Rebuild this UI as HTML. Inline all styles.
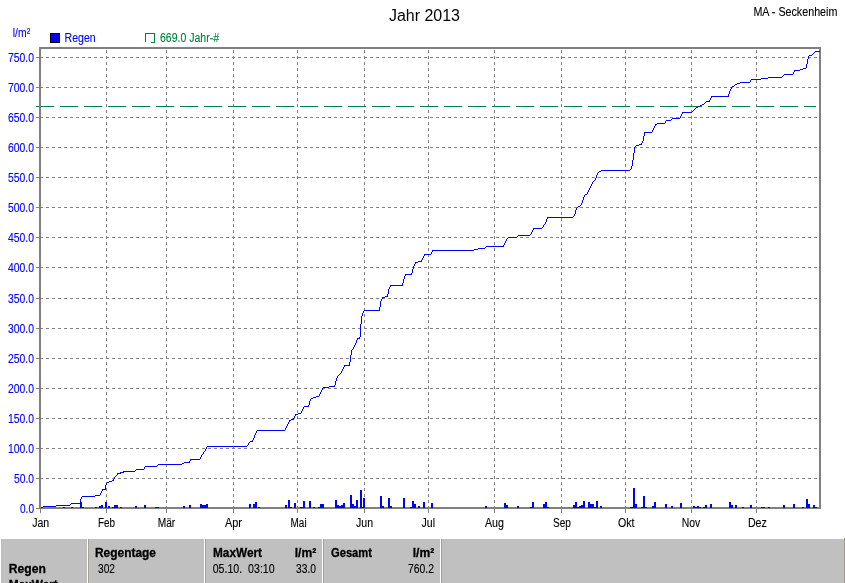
<!DOCTYPE html>
<html><head><meta charset="utf-8"><title>Jahr 2013</title>
<style>html,body{margin:0;padding:0;background:#fff;overflow:hidden}svg{display:block}text{white-space:pre}</style></head>
<body>
<svg width="845" height="583" viewBox="0 0 845 583" font-family="'Liberation Sans', sans-serif">
<rect x="0" y="0" width="845" height="583" fill="#fff"/>
<g shape-rendering="crispEdges">
<line x1="40" y1="57.5" x2="819" y2="57.5" stroke="#808080" stroke-width="1" stroke-dasharray="3 3"/>
<line x1="36" y1="57.5" x2="39" y2="57.5" stroke="#808080" stroke-width="1"/>
<line x1="40" y1="87.5" x2="819" y2="87.5" stroke="#808080" stroke-width="1" stroke-dasharray="3 3"/>
<line x1="36" y1="87.5" x2="39" y2="87.5" stroke="#808080" stroke-width="1"/>
<line x1="40" y1="117.5" x2="819" y2="117.5" stroke="#808080" stroke-width="1" stroke-dasharray="3 3"/>
<line x1="36" y1="117.5" x2="39" y2="117.5" stroke="#808080" stroke-width="1"/>
<line x1="40" y1="147.5" x2="819" y2="147.5" stroke="#808080" stroke-width="1" stroke-dasharray="3 3"/>
<line x1="36" y1="147.5" x2="39" y2="147.5" stroke="#808080" stroke-width="1"/>
<line x1="40" y1="177.5" x2="819" y2="177.5" stroke="#808080" stroke-width="1" stroke-dasharray="3 3"/>
<line x1="36" y1="177.5" x2="39" y2="177.5" stroke="#808080" stroke-width="1"/>
<line x1="40" y1="207.5" x2="819" y2="207.5" stroke="#808080" stroke-width="1" stroke-dasharray="3 3"/>
<line x1="36" y1="207.5" x2="39" y2="207.5" stroke="#808080" stroke-width="1"/>
<line x1="40" y1="237.5" x2="819" y2="237.5" stroke="#808080" stroke-width="1" stroke-dasharray="3 3"/>
<line x1="36" y1="237.5" x2="39" y2="237.5" stroke="#808080" stroke-width="1"/>
<line x1="40" y1="267.5" x2="819" y2="267.5" stroke="#808080" stroke-width="1" stroke-dasharray="3 3"/>
<line x1="36" y1="267.5" x2="39" y2="267.5" stroke="#808080" stroke-width="1"/>
<line x1="40" y1="298.5" x2="819" y2="298.5" stroke="#808080" stroke-width="1" stroke-dasharray="3 3"/>
<line x1="36" y1="298.5" x2="39" y2="298.5" stroke="#808080" stroke-width="1"/>
<line x1="40" y1="328.5" x2="819" y2="328.5" stroke="#808080" stroke-width="1" stroke-dasharray="3 3"/>
<line x1="36" y1="328.5" x2="39" y2="328.5" stroke="#808080" stroke-width="1"/>
<line x1="40" y1="358.5" x2="819" y2="358.5" stroke="#808080" stroke-width="1" stroke-dasharray="3 3"/>
<line x1="36" y1="358.5" x2="39" y2="358.5" stroke="#808080" stroke-width="1"/>
<line x1="40" y1="388.5" x2="819" y2="388.5" stroke="#808080" stroke-width="1" stroke-dasharray="3 3"/>
<line x1="36" y1="388.5" x2="39" y2="388.5" stroke="#808080" stroke-width="1"/>
<line x1="40" y1="418.5" x2="819" y2="418.5" stroke="#808080" stroke-width="1" stroke-dasharray="3 3"/>
<line x1="36" y1="418.5" x2="39" y2="418.5" stroke="#808080" stroke-width="1"/>
<line x1="40" y1="448.5" x2="819" y2="448.5" stroke="#808080" stroke-width="1" stroke-dasharray="3 3"/>
<line x1="36" y1="448.5" x2="39" y2="448.5" stroke="#808080" stroke-width="1"/>
<line x1="40" y1="478.5" x2="819" y2="478.5" stroke="#808080" stroke-width="1" stroke-dasharray="3 3"/>
<line x1="36" y1="478.5" x2="39" y2="478.5" stroke="#808080" stroke-width="1"/>
<line x1="36" y1="508.5" x2="39" y2="508.5" stroke="#808080" stroke-width="1"/>
<line x1="40.5" y1="509" x2="40.5" y2="513" stroke="#808080" stroke-width="1"/>
<line x1="106.5" y1="50" x2="106.5" y2="507" stroke="#808080" stroke-width="1" stroke-dasharray="3 3"/>
<line x1="106.5" y1="509" x2="106.5" y2="513" stroke="#808080" stroke-width="1"/>
<line x1="166.5" y1="50" x2="166.5" y2="507" stroke="#808080" stroke-width="1" stroke-dasharray="3 3"/>
<line x1="166.5" y1="509" x2="166.5" y2="513" stroke="#808080" stroke-width="1"/>
<line x1="233.5" y1="50" x2="233.5" y2="507" stroke="#808080" stroke-width="1" stroke-dasharray="3 3"/>
<line x1="233.5" y1="509" x2="233.5" y2="513" stroke="#808080" stroke-width="1"/>
<line x1="297.5" y1="50" x2="297.5" y2="507" stroke="#808080" stroke-width="1" stroke-dasharray="3 3"/>
<line x1="297.5" y1="509" x2="297.5" y2="513" stroke="#808080" stroke-width="1"/>
<line x1="364.5" y1="50" x2="364.5" y2="507" stroke="#808080" stroke-width="1" stroke-dasharray="3 3"/>
<line x1="364.5" y1="509" x2="364.5" y2="513" stroke="#808080" stroke-width="1"/>
<line x1="428.5" y1="50" x2="428.5" y2="507" stroke="#808080" stroke-width="1" stroke-dasharray="3 3"/>
<line x1="428.5" y1="509" x2="428.5" y2="513" stroke="#808080" stroke-width="1"/>
<line x1="494.5" y1="50" x2="494.5" y2="507" stroke="#808080" stroke-width="1" stroke-dasharray="3 3"/>
<line x1="494.5" y1="509" x2="494.5" y2="513" stroke="#808080" stroke-width="1"/>
<line x1="561.5" y1="50" x2="561.5" y2="507" stroke="#808080" stroke-width="1" stroke-dasharray="3 3"/>
<line x1="561.5" y1="509" x2="561.5" y2="513" stroke="#808080" stroke-width="1"/>
<line x1="625.5" y1="50" x2="625.5" y2="507" stroke="#808080" stroke-width="1" stroke-dasharray="3 3"/>
<line x1="625.5" y1="509" x2="625.5" y2="513" stroke="#808080" stroke-width="1"/>
<line x1="691.5" y1="50" x2="691.5" y2="507" stroke="#808080" stroke-width="1" stroke-dasharray="3 3"/>
<line x1="691.5" y1="509" x2="691.5" y2="513" stroke="#808080" stroke-width="1"/>
<line x1="756.5" y1="50" x2="756.5" y2="507" stroke="#808080" stroke-width="1" stroke-dasharray="3 3"/>
<line x1="756.5" y1="509" x2="756.5" y2="513" stroke="#808080" stroke-width="1"/>
<line x1="36" y1="106.5" x2="816" y2="106.5" stroke="#008040" stroke-width="1" stroke-dasharray="18 6"/>
<rect x="40" y="48" width="780" height="460" fill="none" stroke="#808080" stroke-width="2"/>
<rect x="63" y="507" width="2" height="1" fill="#0000ff"/>
<rect x="71" y="507" width="2" height="1" fill="#0000ff"/>
<rect x="80" y="502" width="2" height="6" fill="#0000ff"/>
<rect x="82" y="507" width="2" height="1" fill="#0000ff"/>
<rect x="95" y="507" width="2" height="1" fill="#0000ff"/>
<rect x="99" y="506" width="2" height="2" fill="#0000ff"/>
<rect x="101" y="505" width="2" height="3" fill="#0000ff"/>
<rect x="105" y="502" width="2" height="6" fill="#0000ff"/>
<rect x="108" y="506" width="2" height="2" fill="#0000ff"/>
<rect x="112" y="507" width="2" height="1" fill="#0000ff"/>
<rect x="114" y="505" width="4" height="3" fill="#0000ff"/>
<rect x="120" y="507" width="2" height="1" fill="#0000ff"/>
<rect x="135" y="506" width="2" height="2" fill="#0000ff"/>
<rect x="144" y="505" width="2" height="3" fill="#0000ff"/>
<rect x="155" y="507" width="4" height="1" fill="#0000ff"/>
<rect x="183" y="506" width="2" height="2" fill="#0000ff"/>
<rect x="189" y="505" width="2" height="3" fill="#0000ff"/>
<rect x="200" y="504" width="2" height="4" fill="#0000ff"/>
<rect x="202" y="505" width="4" height="3" fill="#0000ff"/>
<rect x="206" y="504" width="2" height="4" fill="#0000ff"/>
<rect x="249" y="504" width="2" height="4" fill="#0000ff"/>
<rect x="253" y="504" width="2" height="4" fill="#0000ff"/>
<rect x="255" y="502" width="2" height="6" fill="#0000ff"/>
<rect x="258" y="507" width="2" height="1" fill="#0000ff"/>
<rect x="285" y="505" width="2" height="3" fill="#0000ff"/>
<rect x="288" y="500" width="2" height="8" fill="#0000ff"/>
<rect x="290" y="507" width="2" height="1" fill="#0000ff"/>
<rect x="294" y="503" width="2" height="5" fill="#0000ff"/>
<rect x="300" y="507" width="3" height="1" fill="#0000ff"/>
<rect x="303" y="501" width="2" height="7" fill="#0000ff"/>
<rect x="309" y="501" width="2" height="7" fill="#0000ff"/>
<rect x="313" y="507" width="2" height="1" fill="#0000ff"/>
<rect x="318" y="507" width="2" height="1" fill="#0000ff"/>
<rect x="320" y="504" width="4" height="4" fill="#0000ff"/>
<rect x="335" y="500" width="2" height="8" fill="#0000ff"/>
<rect x="337" y="505" width="2" height="3" fill="#0000ff"/>
<rect x="339" y="506" width="2" height="2" fill="#0000ff"/>
<rect x="341" y="505" width="2" height="3" fill="#0000ff"/>
<rect x="343" y="503" width="2" height="5" fill="#0000ff"/>
<rect x="350" y="495" width="2" height="13" fill="#0000ff"/>
<rect x="352" y="504" width="2" height="4" fill="#0000ff"/>
<rect x="354" y="506" width="2" height="2" fill="#0000ff"/>
<rect x="356" y="500" width="2" height="8" fill="#0000ff"/>
<rect x="360" y="490" width="2" height="18" fill="#0000ff"/>
<rect x="362" y="507" width="1" height="1" fill="#0000ff"/>
<rect x="363" y="498" width="2" height="10" fill="#0000ff"/>
<rect x="380" y="496" width="2" height="12" fill="#0000ff"/>
<rect x="382" y="506" width="2" height="2" fill="#0000ff"/>
<rect x="388" y="498" width="2" height="10" fill="#0000ff"/>
<rect x="390" y="506" width="2" height="2" fill="#0000ff"/>
<rect x="403" y="498" width="2" height="10" fill="#0000ff"/>
<rect x="410" y="507" width="2" height="1" fill="#0000ff"/>
<rect x="412" y="501" width="2" height="7" fill="#0000ff"/>
<rect x="414" y="504" width="2" height="4" fill="#0000ff"/>
<rect x="418" y="506" width="2" height="2" fill="#0000ff"/>
<rect x="423" y="502" width="2" height="6" fill="#0000ff"/>
<rect x="431" y="503" width="2" height="5" fill="#0000ff"/>
<rect x="485" y="506" width="2" height="2" fill="#0000ff"/>
<rect x="504" y="503" width="2" height="5" fill="#0000ff"/>
<rect x="506" y="505" width="2" height="3" fill="#0000ff"/>
<rect x="517" y="506" width="2" height="2" fill="#0000ff"/>
<rect x="530" y="507" width="2" height="1" fill="#0000ff"/>
<rect x="532" y="502" width="2" height="6" fill="#0000ff"/>
<rect x="543" y="504" width="2" height="4" fill="#0000ff"/>
<rect x="545" y="502" width="2" height="6" fill="#0000ff"/>
<rect x="547" y="507" width="2" height="1" fill="#0000ff"/>
<rect x="573" y="505" width="2" height="3" fill="#0000ff"/>
<rect x="575" y="502" width="2" height="6" fill="#0000ff"/>
<rect x="577" y="507" width="2" height="1" fill="#0000ff"/>
<rect x="579" y="506" width="2" height="2" fill="#0000ff"/>
<rect x="581" y="505" width="2" height="3" fill="#0000ff"/>
<rect x="583" y="501" width="2" height="7" fill="#0000ff"/>
<rect x="588" y="502" width="2" height="6" fill="#0000ff"/>
<rect x="590" y="504" width="4" height="4" fill="#0000ff"/>
<rect x="594" y="507" width="2" height="1" fill="#0000ff"/>
<rect x="596" y="501" width="2" height="7" fill="#0000ff"/>
<rect x="600" y="506" width="2" height="2" fill="#0000ff"/>
<rect x="630" y="507" width="3" height="1" fill="#0000ff"/>
<rect x="633" y="488" width="2" height="20" fill="#0000ff"/>
<rect x="635" y="504" width="2" height="4" fill="#0000ff"/>
<rect x="641" y="507" width="2" height="1" fill="#0000ff"/>
<rect x="643" y="496" width="2" height="12" fill="#0000ff"/>
<rect x="645" y="507" width="2" height="1" fill="#0000ff"/>
<rect x="652" y="506" width="2" height="2" fill="#0000ff"/>
<rect x="654" y="502" width="2" height="6" fill="#0000ff"/>
<rect x="665" y="504" width="2" height="4" fill="#0000ff"/>
<rect x="671" y="506" width="2" height="2" fill="#0000ff"/>
<rect x="680" y="503" width="2" height="5" fill="#0000ff"/>
<rect x="693" y="506" width="2" height="2" fill="#0000ff"/>
<rect x="695" y="507" width="2" height="1" fill="#0000ff"/>
<rect x="697" y="506" width="2" height="2" fill="#0000ff"/>
<rect x="699" y="507" width="2" height="1" fill="#0000ff"/>
<rect x="703" y="507" width="2" height="1" fill="#0000ff"/>
<rect x="705" y="505" width="2" height="3" fill="#0000ff"/>
<rect x="710" y="504" width="2" height="4" fill="#0000ff"/>
<rect x="729" y="502" width="2" height="6" fill="#0000ff"/>
<rect x="731" y="505" width="2" height="3" fill="#0000ff"/>
<rect x="735" y="505" width="2" height="3" fill="#0000ff"/>
<rect x="742" y="507" width="2" height="1" fill="#0000ff"/>
<rect x="750" y="505" width="2" height="3" fill="#0000ff"/>
<rect x="761" y="507" width="4" height="1" fill="#0000ff"/>
<rect x="768" y="507" width="2" height="1" fill="#0000ff"/>
<rect x="783" y="505" width="2" height="3" fill="#0000ff"/>
<rect x="793" y="504" width="2" height="4" fill="#0000ff"/>
<rect x="802" y="507" width="2" height="1" fill="#0000ff"/>
<rect x="806" y="499" width="2" height="9" fill="#0000ff"/>
<rect x="808" y="504" width="2" height="4" fill="#0000ff"/>
<rect x="813" y="505" width="2" height="3" fill="#0000ff"/>
<rect x="815" y="507" width="2" height="1" fill="#0000ff"/>
<path d="M815 51h5v1h-5zM814 52h1v1h-1zM813 53h1v1h-1zM812 54h1v1h-1zM809 55h3v1h-3zM808 56h1v1h-1zM808 57h1v1h-1zM808 58h1v1h-1zM807 59h1v1h-1zM807 60h1v1h-1zM807 61h1v1h-1zM807 62h1v1h-1zM807 63h1v1h-1zM806 64h1v1h-1zM806 65h1v1h-1zM806 66h1v1h-1zM806 67h1v1h-1zM803 68h3v1h-3zM800 69h3v1h-3zM794 70h6v1h-6zM794 71h1v1h-1zM793 72h1v1h-1zM793 73h1v1h-1zM784 74h9v1h-9zM783 75h1v1h-1zM782 76h1v1h-1zM768 77h14v1h-14zM761 78h7v1h-7zM751 79h10v1h-10zM750 80h1v1h-1zM750 81h1v1h-1zM740 82h10v1h-10zM737 83h3v1h-3zM735 84h2v1h-2zM734 85h1v1h-1zM732 86h2v1h-2zM731 87h1v1h-1zM731 88h1v1h-1zM730 89h1v1h-1zM730 90h1v1h-1zM729 91h1v1h-1zM729 92h1v1h-1zM729 93h1v1h-1zM728 94h1v1h-1zM728 95h1v1h-1zM711 96h18v1h-18zM711 97h1v1h-1zM710 98h1v1h-1zM710 99h1v1h-1zM709 100h1v1h-1zM706 101h4v1h-4zM705 102h1v1h-1zM704 103h1v1h-1zM702 104h2v1h-2zM700 105h2v1h-2zM698 106h2v1h-2zM696 107h2v1h-2zM695 108h1v1h-1zM694 109h1v1h-1zM693 110h1v1h-1zM692 111h1v1h-1zM682 112h10v1h-10zM682 113h1v1h-1zM681 114h1v1h-1zM681 115h1v1h-1zM680 116h1v1h-1zM680 117h1v1h-1zM672 118h8v1h-8zM671 119h1v1h-1zM666 120h5v1h-5zM665 121h1v1h-1zM665 122h1v1h-1zM657 123h8v1h-8zM655 124h2v1h-2zM655 125h1v1h-1zM654 126h1v1h-1zM654 127h1v1h-1zM653 128h1v1h-1zM653 129h1v1h-1zM652 130h1v1h-1zM652 131h1v1h-1zM644 132h8v1h-8zM644 133h1v1h-1zM644 134h1v1h-1zM644 135h1v1h-1zM643 136h1v1h-1zM643 137h1v1h-1zM643 138h1v1h-1zM643 139h1v1h-1zM643 140h1v1h-1zM642 141h1v1h-1zM642 142h1v1h-1zM641 143h1v1h-1zM639 144h3v1h-3zM636 145h3v1h-3zM635 146h1v1h-1zM634 147h1v1h-1zM634 148h1v1h-1zM634 149h1v1h-1zM634 150h1v1h-1zM634 151h1v1h-1zM634 152h1v1h-1zM633 153h1v1h-1zM633 154h1v1h-1zM633 155h1v1h-1zM633 156h1v1h-1zM633 157h1v1h-1zM633 158h1v1h-1zM633 159h1v1h-1zM632 160h1v1h-1zM632 161h1v1h-1zM632 162h1v1h-1zM632 163h1v1h-1zM632 164h1v1h-1zM632 165h1v1h-1zM631 166h1v1h-1zM631 167h1v1h-1zM631 168h1v1h-1zM630 169h1v1h-1zM601 170h29v1h-29zM599 171h2v1h-2zM598 172h1v1h-1zM597 173h1v1h-1zM597 174h1v1h-1zM596 175h1v1h-1zM596 176h1v1h-1zM596 177h1v1h-1zM595 178h1v1h-1zM595 179h1v1h-1zM594 180h1v1h-1zM593 181h1v1h-1zM592 182h1v1h-1zM592 183h1v1h-1zM591 184h1v1h-1zM591 185h1v1h-1zM590 186h1v1h-1zM590 187h1v1h-1zM589 188h1v1h-1zM589 189h1v1h-1zM588 190h1v1h-1zM588 191h1v1h-1zM587 192h1v1h-1zM587 193h1v1h-1zM585 194h2v1h-2zM584 195h1v1h-1zM584 196h1v1h-1zM583 197h1v1h-1zM583 198h1v1h-1zM583 199h1v1h-1zM582 200h1v1h-1zM582 201h1v1h-1zM582 202h1v1h-1zM581 203h1v1h-1zM581 204h1v1h-1zM580 205h1v1h-1zM578 206h2v1h-2zM577 207h1v1h-1zM576 208h1v1h-1zM576 209h1v1h-1zM575 210h1v1h-1zM575 211h1v1h-1zM575 212h1v1h-1zM575 213h1v1h-1zM574 214h1v1h-1zM574 215h1v1h-1zM573 216h1v1h-1zM547 217h26v1h-26zM547 218h1v1h-1zM546 219h1v1h-1zM546 220h1v1h-1zM546 221h1v1h-1zM545 222h1v1h-1zM545 223h1v1h-1zM544 224h1v1h-1zM543 225h1v1h-1zM543 226h1v1h-1zM542 227h1v1h-1zM533 228h9v1h-9zM533 229h1v1h-1zM532 230h1v1h-1zM532 231h1v1h-1zM531 232h1v1h-1zM531 233h1v1h-1zM530 234h1v1h-1zM518 235h12v1h-12zM517 236h1v1h-1zM508 237h9v1h-9zM507 238h1v1h-1zM506 239h1v1h-1zM506 240h1v1h-1zM505 241h1v1h-1zM505 242h1v1h-1zM504 243h1v1h-1zM504 244h1v1h-1zM503 245h1v1h-1zM486 246h18v1h-18zM485 247h1v1h-1zM478 248h7v1h-7zM474 249h4v1h-4zM432 250h42v1h-42zM432 251h1v1h-1zM431 252h1v1h-1zM431 253h1v1h-1zM424 254h7v1h-7zM424 255h1v1h-1zM423 256h1v1h-1zM423 257h1v1h-1zM422 258h1v1h-1zM422 259h1v1h-1zM421 260h1v1h-1zM418 261h4v1h-4zM415 262h3v1h-3zM415 263h1v1h-1zM414 264h1v1h-1zM414 265h1v1h-1zM413 266h1v1h-1zM413 267h1v1h-1zM413 268h1v1h-1zM412 269h1v1h-1zM412 270h1v1h-1zM412 271h1v1h-1zM412 272h1v1h-1zM411 273h1v1h-1zM405 274h7v1h-7zM405 275h1v1h-1zM404 276h1v1h-1zM404 277h1v1h-1zM404 278h1v1h-1zM403 279h1v1h-1zM403 280h1v1h-1zM403 281h1v1h-1zM403 282h1v1h-1zM402 283h1v1h-1zM402 284h1v1h-1zM390 285h13v1h-13zM390 286h1v1h-1zM389 287h1v1h-1zM389 288h1v1h-1zM388 289h1v1h-1zM388 290h1v1h-1zM388 291h1v1h-1zM388 292h1v1h-1zM388 293h1v1h-1zM387 294h1v1h-1zM387 295h1v1h-1zM385 296h3v1h-3zM382 297h3v1h-3zM382 298h1v1h-1zM381 299h1v1h-1zM381 300h1v1h-1zM380 301h1v1h-1zM380 302h1v1h-1zM380 303h1v1h-1zM380 304h1v1h-1zM380 305h1v1h-1zM380 306h1v1h-1zM379 307h1v1h-1zM379 308h1v1h-1zM379 309h1v1h-1zM364 310h16v1h-16zM363 311h1v1h-1zM363 312h1v1h-1zM362 313h1v1h-1zM362 314h1v1h-1zM362 315h1v1h-1zM361 316h1v1h-1zM361 317h1v1h-1zM361 318h1v1h-1zM361 319h1v1h-1zM361 320h1v1h-1zM361 321h1v1h-1zM361 322h1v1h-1zM361 323h1v1h-1zM360 324h1v1h-1zM360 325h1v1h-1zM360 326h1v1h-1zM360 327h1v1h-1zM360 328h1v1h-1zM360 329h1v1h-1zM360 330h1v1h-1zM360 331h1v1h-1zM360 332h1v1h-1zM360 333h1v1h-1zM360 334h1v1h-1zM360 335h1v1h-1zM360 336h1v1h-1zM359 337h1v1h-1zM357 338h3v1h-3zM357 339h1v1h-1zM356 340h1v1h-1zM356 341h1v1h-1zM356 342h1v1h-1zM355 343h1v1h-1zM355 344h1v1h-1zM354 345h1v1h-1zM354 346h1v1h-1zM353 347h1v1h-1zM353 348h1v1h-1zM352 349h1v1h-1zM351 350h1v1h-1zM351 351h1v1h-1zM351 352h1v1h-1zM351 353h1v1h-1zM351 354h1v1h-1zM350 355h1v1h-1zM350 356h1v1h-1zM350 357h1v1h-1zM350 358h1v1h-1zM350 359h1v1h-1zM350 360h1v1h-1zM350 361h1v1h-1zM349 362h1v1h-1zM349 363h1v1h-1zM349 364h1v1h-1zM344 365h6v1h-6zM344 366h1v1h-1zM343 367h1v1h-1zM343 368h1v1h-1zM342 369h1v1h-1zM342 370h1v1h-1zM341 371h1v1h-1zM341 372h1v1h-1zM340 373h1v1h-1zM339 374h1v1h-1zM338 375h1v1h-1zM337 376h1v1h-1zM337 377h1v1h-1zM336 378h1v1h-1zM336 379h1v1h-1zM336 380h1v1h-1zM335 381h1v1h-1zM335 382h1v1h-1zM335 383h1v1h-1zM335 384h1v1h-1zM334 385h1v1h-1zM329 386h6v1h-6zM323 387h6v1h-6zM322 388h1v1h-1zM322 389h1v1h-1zM321 390h1v1h-1zM321 391h1v1h-1zM320 392h1v1h-1zM320 393h1v1h-1zM319 394h1v1h-1zM319 395h1v1h-1zM316 396h3v1h-3zM313 397h3v1h-3zM311 398h2v1h-2zM310 399h1v1h-1zM310 400h1v1h-1zM309 401h1v1h-1zM309 402h1v1h-1zM309 403h1v1h-1zM309 404h1v1h-1zM308 405h1v1h-1zM304 406h5v1h-5zM303 407h1v1h-1zM303 408h1v1h-1zM302 409h1v1h-1zM302 410h1v1h-1zM301 411h1v1h-1zM301 412h1v1h-1zM298 413h3v1h-3zM295 414h3v1h-3zM295 415h1v1h-1zM294 416h1v1h-1zM294 417h1v1h-1zM293 418h1v1h-1zM291 419h3v1h-3zM289 420h2v1h-2zM289 421h1v1h-1zM288 422h1v1h-1zM288 423h1v1h-1zM287 424h1v1h-1zM287 425h1v1h-1zM286 426h1v1h-1zM286 427h1v1h-1zM285 428h1v1h-1zM285 429h1v1h-1zM257 430h28v1h-28zM256 431h1v1h-1zM256 432h1v1h-1zM255 433h1v1h-1zM255 434h1v1h-1zM254 435h1v1h-1zM254 436h1v1h-1zM254 437h1v1h-1zM253 438h1v1h-1zM253 439h1v1h-1zM252 440h1v1h-1zM250 441h3v1h-3zM249 442h1v1h-1zM248 443h1v1h-1zM248 444h1v1h-1zM247 445h1v1h-1zM207 446h40v1h-40zM206 447h1v1h-1zM206 448h1v1h-1zM205 449h1v1h-1zM205 450h1v1h-1zM204 451h1v1h-1zM203 452h1v1h-1zM203 453h1v1h-1zM202 454h1v1h-1zM201 455h1v1h-1zM201 456h1v1h-1zM200 457h1v1h-1zM200 458h1v1h-1zM190 459h10v1h-10zM190 460h1v1h-1zM189 461h1v1h-1zM184 462h6v1h-6zM182 463h2v1h-2zM158 464h24v1h-24zM157 465h1v1h-1zM145 466h12v1h-12zM144 467h1v1h-1zM144 468h1v1h-1zM136 469h8v1h-8zM135 470h1v1h-1zM123 471h12v1h-12zM120 472h4v1h-4zM117 473h4v1h-4zM117 474h1v1h-1zM116 475h1v1h-1zM115 476h1v1h-1zM114 477h1v1h-1zM114 478h1v1h-1zM113 479h1v1h-1zM112 480h2v1h-2zM109 481h3v1h-3zM107 482h2v1h-2zM106 483h1v1h-1zM106 484h1v1h-1zM105 485h1v1h-1zM105 486h1v1h-1zM105 487h1v1h-1zM105 488h1v1h-1zM102 489h4v1h-4zM102 490h1v1h-1zM101 491h1v1h-1zM101 492h1v1h-1zM100 493h1v1h-1zM100 494h1v1h-1zM95 495h5v1h-5zM82 496h13v1h-13zM81 497h1v1h-1zM81 498h1v1h-1zM80 499h1v1h-1zM80 500h1v1h-1zM80 501h1v1h-1zM80 502h1v1h-1zM71 503h10v1h-10zM70 504h1v1h-1zM56 505h14v1h-14zM43 506h13v1h-13zM41 507h2v1h-2z" fill="#0000ff"/>
<rect x="50.5" y="33.5" width="9" height="9" fill="#0000ff" stroke="#000" stroke-width="1"/>
<path d="M145.5 42 V33.5 H154.5 V42.5 H151" fill="none" stroke="#008040" stroke-width="1"/>
<rect x="0" y="539" width="845" height="44" fill="#c0c0c0"/>
<rect x="0" y="539" width="1" height="44" fill="#fff"/>
<rect x="844" y="538" width="1" height="45" fill="#9d9a8a"/>
<rect x="87" y="539" width="1" height="44" fill="#fff"/>
<rect x="88" y="539" width="1" height="44" fill="#a6a394"/>
<rect x="204" y="539" width="1" height="44" fill="#fff"/>
<rect x="205" y="539" width="1" height="44" fill="#a6a394"/>
<rect x="322" y="539" width="1" height="44" fill="#fff"/>
<rect x="323" y="539" width="1" height="44" fill="#a6a394"/>
<rect x="440" y="539" width="1" height="44" fill="#fff"/>
<rect x="441" y="539" width="1" height="44" fill="#a6a394"/>
</g>
<defs><filter id="gs" filterUnits="userSpaceOnUse" x="0" y="0" width="845" height="583" color-interpolation-filters="sRGB"><feOffset dx="0" dy="0"/></filter></defs>
<g filter="url(#gs)">
<text x="389" y="21" font-size="16" font-weight="normal" fill="#000" stroke="#000" stroke-width="0" text-anchor="start" textLength="71" lengthAdjust="spacingAndGlyphs" xml:space="preserve">Jahr 2013</text>
<text x="753.4" y="16" font-size="12.5" font-weight="normal" fill="#000" stroke="#000" stroke-width="0.12" text-anchor="start" textLength="84" lengthAdjust="spacingAndGlyphs" xml:space="preserve">MA - Seckenheim</text>
<text x="12.8" y="37" font-size="12.5" font-weight="normal" fill="#0000ff" stroke="#0000ff" stroke-width="0.12" text-anchor="start" textLength="17.3" lengthAdjust="spacingAndGlyphs" xml:space="preserve">l/m²</text>
<text x="34" y="62" font-size="12.5" font-weight="normal" fill="#0000ff" stroke="#0000ff" stroke-width="0.12" text-anchor="end" textLength="26" lengthAdjust="spacingAndGlyphs" xml:space="preserve">750.0</text>
<text x="34" y="92" font-size="12.5" font-weight="normal" fill="#0000ff" stroke="#0000ff" stroke-width="0.12" text-anchor="end" textLength="26" lengthAdjust="spacingAndGlyphs" xml:space="preserve">700.0</text>
<text x="34" y="122" font-size="12.5" font-weight="normal" fill="#0000ff" stroke="#0000ff" stroke-width="0.12" text-anchor="end" textLength="26" lengthAdjust="spacingAndGlyphs" xml:space="preserve">650.0</text>
<text x="34" y="152" font-size="12.5" font-weight="normal" fill="#0000ff" stroke="#0000ff" stroke-width="0.12" text-anchor="end" textLength="26" lengthAdjust="spacingAndGlyphs" xml:space="preserve">600.0</text>
<text x="34" y="182" font-size="12.5" font-weight="normal" fill="#0000ff" stroke="#0000ff" stroke-width="0.12" text-anchor="end" textLength="26" lengthAdjust="spacingAndGlyphs" xml:space="preserve">550.0</text>
<text x="34" y="212" font-size="12.5" font-weight="normal" fill="#0000ff" stroke="#0000ff" stroke-width="0.12" text-anchor="end" textLength="26" lengthAdjust="spacingAndGlyphs" xml:space="preserve">500.0</text>
<text x="34" y="242" font-size="12.5" font-weight="normal" fill="#0000ff" stroke="#0000ff" stroke-width="0.12" text-anchor="end" textLength="26" lengthAdjust="spacingAndGlyphs" xml:space="preserve">450.0</text>
<text x="34" y="272" font-size="12.5" font-weight="normal" fill="#0000ff" stroke="#0000ff" stroke-width="0.12" text-anchor="end" textLength="26" lengthAdjust="spacingAndGlyphs" xml:space="preserve">400.0</text>
<text x="34" y="303" font-size="12.5" font-weight="normal" fill="#0000ff" stroke="#0000ff" stroke-width="0.12" text-anchor="end" textLength="26" lengthAdjust="spacingAndGlyphs" xml:space="preserve">350.0</text>
<text x="34" y="333" font-size="12.5" font-weight="normal" fill="#0000ff" stroke="#0000ff" stroke-width="0.12" text-anchor="end" textLength="26" lengthAdjust="spacingAndGlyphs" xml:space="preserve">300.0</text>
<text x="34" y="363" font-size="12.5" font-weight="normal" fill="#0000ff" stroke="#0000ff" stroke-width="0.12" text-anchor="end" textLength="26" lengthAdjust="spacingAndGlyphs" xml:space="preserve">250.0</text>
<text x="34" y="393" font-size="12.5" font-weight="normal" fill="#0000ff" stroke="#0000ff" stroke-width="0.12" text-anchor="end" textLength="26" lengthAdjust="spacingAndGlyphs" xml:space="preserve">200.0</text>
<text x="34" y="423" font-size="12.5" font-weight="normal" fill="#0000ff" stroke="#0000ff" stroke-width="0.12" text-anchor="end" textLength="26" lengthAdjust="spacingAndGlyphs" xml:space="preserve">150.0</text>
<text x="34" y="453" font-size="12.5" font-weight="normal" fill="#0000ff" stroke="#0000ff" stroke-width="0.12" text-anchor="end" textLength="26" lengthAdjust="spacingAndGlyphs" xml:space="preserve">100.0</text>
<text x="34" y="483" font-size="12.5" font-weight="normal" fill="#0000ff" stroke="#0000ff" stroke-width="0.12" text-anchor="end" textLength="20" lengthAdjust="spacingAndGlyphs" xml:space="preserve">50.0</text>
<text x="34" y="513" font-size="12.5" font-weight="normal" fill="#0000ff" stroke="#0000ff" stroke-width="0.12" text-anchor="end" textLength="14" lengthAdjust="spacingAndGlyphs" xml:space="preserve">0.0</text>
<text x="64.6" y="42" font-size="12.5" font-weight="normal" fill="#0000ff" stroke="#0000ff" stroke-width="0.12" text-anchor="start" textLength="31" lengthAdjust="spacingAndGlyphs" xml:space="preserve">Regen</text>
<text x="160" y="42" font-size="12.5" font-weight="normal" fill="#008040" stroke="#008040" stroke-width="0.12" text-anchor="start" textLength="59" lengthAdjust="spacingAndGlyphs" xml:space="preserve">669.0 Jahr-#</text>
<text x="32.2" y="527" font-size="12.5" font-weight="normal" fill="#000" stroke="#000" stroke-width="0.12" text-anchor="start" textLength="17" lengthAdjust="spacingAndGlyphs" xml:space="preserve">Jan</text>
<text x="98.1" y="527" font-size="12.5" font-weight="normal" fill="#000" stroke="#000" stroke-width="0.12" text-anchor="start" textLength="17" lengthAdjust="spacingAndGlyphs" xml:space="preserve">Feb</text>
<text x="157.7" y="527" font-size="12.5" font-weight="normal" fill="#000" stroke="#000" stroke-width="0.12" text-anchor="start" textLength="17.5" lengthAdjust="spacingAndGlyphs" xml:space="preserve">Mär</text>
<text x="225.0" y="527" font-size="12.5" font-weight="normal" fill="#000" stroke="#000" stroke-width="0.12" text-anchor="start" textLength="17" lengthAdjust="spacingAndGlyphs" xml:space="preserve">Apr</text>
<text x="290.6" y="527" font-size="12.5" font-weight="normal" fill="#000" stroke="#000" stroke-width="0.12" text-anchor="start" textLength="16" lengthAdjust="spacingAndGlyphs" xml:space="preserve">Mai</text>
<text x="356.0" y="527" font-size="12.5" font-weight="normal" fill="#000" stroke="#000" stroke-width="0.12" text-anchor="start" textLength="17" lengthAdjust="spacingAndGlyphs" xml:space="preserve">Jun</text>
<text x="421.6" y="527" font-size="12.5" font-weight="normal" fill="#000" stroke="#000" stroke-width="0.12" text-anchor="start" textLength="13.5" lengthAdjust="spacingAndGlyphs" xml:space="preserve">Jul</text>
<text x="484.9" y="527" font-size="12.5" font-weight="normal" fill="#000" stroke="#000" stroke-width="0.12" text-anchor="start" textLength="19" lengthAdjust="spacingAndGlyphs" xml:space="preserve">Aug</text>
<text x="552.9" y="527" font-size="12.5" font-weight="normal" fill="#000" stroke="#000" stroke-width="0.12" text-anchor="start" textLength="18" lengthAdjust="spacingAndGlyphs" xml:space="preserve">Sep</text>
<text x="618.0" y="527" font-size="12.5" font-weight="normal" fill="#000" stroke="#000" stroke-width="0.12" text-anchor="start" textLength="16.5" lengthAdjust="spacingAndGlyphs" xml:space="preserve">Okt</text>
<text x="681.8" y="527" font-size="12.5" font-weight="normal" fill="#000" stroke="#000" stroke-width="0.12" text-anchor="start" textLength="18.5" lengthAdjust="spacingAndGlyphs" xml:space="preserve">Nov</text>
<text x="747.9" y="527" font-size="12.5" font-weight="normal" fill="#000" stroke="#000" stroke-width="0.12" text-anchor="start" textLength="19" lengthAdjust="spacingAndGlyphs" xml:space="preserve">Dez</text>
<text x="95" y="557" font-size="12.5" font-weight="bold" fill="#000" stroke="#000" stroke-width="0.3" text-anchor="start" textLength="61" lengthAdjust="spacingAndGlyphs" xml:space="preserve">Regentage</text>
<text x="213" y="557" font-size="12.5" font-weight="bold" fill="#000" stroke="#000" stroke-width="0.3" text-anchor="start" textLength="49" lengthAdjust="spacingAndGlyphs" xml:space="preserve">MaxWert</text>
<text x="294.7" y="557" font-size="12.5" font-weight="bold" fill="#000" stroke="#000" stroke-width="0.3" text-anchor="start" textLength="21.5" lengthAdjust="spacingAndGlyphs" xml:space="preserve">l/m²</text>
<text x="331" y="557" font-size="12.5" font-weight="bold" fill="#000" stroke="#000" stroke-width="0.3" text-anchor="start" textLength="41" lengthAdjust="spacingAndGlyphs" xml:space="preserve">Gesamt</text>
<text x="412.7" y="557" font-size="12.5" font-weight="bold" fill="#000" stroke="#000" stroke-width="0.3" text-anchor="start" textLength="21.5" lengthAdjust="spacingAndGlyphs" xml:space="preserve">l/m²</text>
<text x="8.8" y="573" font-size="12.5" font-weight="bold" fill="#000" stroke="#000" stroke-width="0.3" text-anchor="start" textLength="37" lengthAdjust="spacingAndGlyphs" xml:space="preserve">Regen</text>
<text x="98" y="573" font-size="12.5" font-weight="normal" fill="#000" stroke="#000" stroke-width="0.12" text-anchor="start" textLength="17" lengthAdjust="spacingAndGlyphs" xml:space="preserve">302</text>
<text x="212.7" y="573" font-size="12.5" font-weight="normal" fill="#000" stroke="#000" stroke-width="0.12" text-anchor="start" textLength="62" lengthAdjust="spacingAndGlyphs" xml:space="preserve">05.10.  03:10</text>
<text x="296" y="573" font-size="12.5" font-weight="normal" fill="#000" stroke="#000" stroke-width="0.12" text-anchor="start" textLength="20" lengthAdjust="spacingAndGlyphs" xml:space="preserve">33.0</text>
<text x="408" y="573" font-size="12.5" font-weight="normal" fill="#000" stroke="#000" stroke-width="0.12" text-anchor="start" textLength="26" lengthAdjust="spacingAndGlyphs" xml:space="preserve">760.2</text>
<text x="8.8" y="589.4" font-size="12.5" font-weight="bold" fill="#000" stroke="#000" stroke-width="0.3" text-anchor="start" textLength="49" lengthAdjust="spacingAndGlyphs" xml:space="preserve">MaxWert</text>
</g>
</svg>
</body></html>
